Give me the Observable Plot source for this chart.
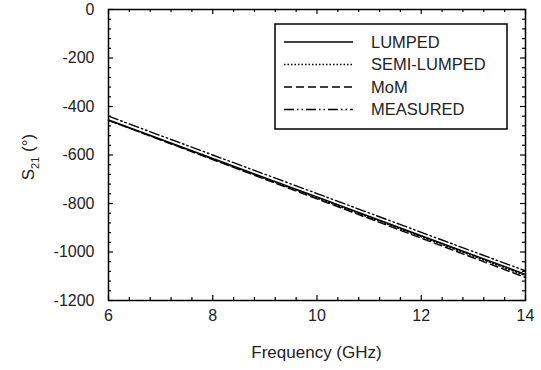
<!DOCTYPE html>
<html><head><meta charset="utf-8">
<script src="https://cdn.jsdelivr.net/npm/d3@7"></script>
<script src="https://cdn.jsdelivr.net/npm/@observablehq/plot@0.6"></script>
<style>body{margin:0;background:#fff;} svg{display:block}</style>
</head><body><div id="chart"></div>
<script>
// ---- data ----
const freq = [6, 8, 10, 12, 14];
const lumped = [-455, -614, -773, -933, -1092];
const semiLumped = [-457, -617, -777, -937, -1097];
const mom = [-457, -619, -781, -943, -1105];
const measured = [-440, -600, -759, -919, -1078];
const seriesNames = ["LUMPED", "SEMI-LUMPED", "MoM", "MEASURED"];
const xTickValues = [6, 8, 10, 12, 14];
const yTickValues = [0, -200, -400, -600, -800, -1000, -1200];
const xLabel = "Frequency (GHz)";

// ---- layout ----
const W = 541, H = 370;
const mL = 108, mR = 16, mT = 9, mB = 70;
const xDom = [6, 14], yDom = [-1200, 0];
const pxX = (xDom[1] - xDom[0]) / (W - mL - mR);
const pxY = (yDom[1] - yDom[0]) / (H - mT - mB);
const dashes = [null, "1.5,2", "8,4", "10,3,1.5,3,1.5,3"];
const seriesVals = [lumped, semiLumped, mom, measured];

const rows = seriesNames.flatMap((s, k) => freq.map((f, i) => ({series: s, f, v: seriesVals[k][i]})));
const xMinor = d3.range(6, 14.0001, 0.4).filter(v => !xTickValues.some(t => Math.abs(t - v) < 1e-6));
const yMinor = d3.range(-1200, 0.0001, 40).filter(v => !yTickValues.some(t => Math.abs(t - v) < 1e-6));

const majL = 5, minL = 3;
const tickMarks = [
  Plot.ruleX(xTickValues, {x: d => d, y1: yDom[0], y2: yDom[0] + majL * pxY, stroke: "#000", strokeWidth: 1.2}),
  Plot.ruleX(xTickValues, {x: d => d, y1: yDom[1], y2: yDom[1] - majL * pxY, stroke: "#000", strokeWidth: 1.2}),
  Plot.ruleX(xMinor, {x: d => d, y1: yDom[0], y2: yDom[0] + minL * pxY, stroke: "#000", strokeWidth: 1.2}),
  Plot.ruleX(xMinor, {x: d => d, y1: yDom[1], y2: yDom[1] - minL * pxY, stroke: "#000", strokeWidth: 1.2}),
  Plot.ruleY(yTickValues, {y: d => d, x1: xDom[0], x2: xDom[0] + majL * pxX, stroke: "#000", strokeWidth: 1.2}),
  Plot.ruleY(yTickValues, {y: d => d, x1: xDom[1], x2: xDom[1] - majL * pxX, stroke: "#000", strokeWidth: 1.2}),
  Plot.ruleY(yMinor, {y: d => d, x1: xDom[0], x2: xDom[0] + minL * pxX, stroke: "#000", strokeWidth: 1.2}),
  Plot.ruleY(yMinor, {y: d => d, x1: xDom[1], x2: xDom[1] - minL * pxX, stroke: "#000", strokeWidth: 1.2})
];

const lineMarks = seriesNames.map((s, k) => Plot.line(rows.filter(r => r.series === s), {
  x: "f", y: "v", stroke: "#000", strokeWidth: 1.4, strokeDasharray: dashes[k]
}));

const chart = Plot.plot({
  width: W, height: H,
  marginLeft: mL, marginRight: mR, marginTop: mT, marginBottom: mB,
  style: {fontFamily: "'Liberation Sans', Arial, sans-serif", fontSize: "16px", color: "#222", background: "#fff"},
  x: {domain: xDom, label: null},
  y: {domain: yDom, label: null},
  marks: [
    Plot.axisX({ticks: xTickValues, tickSize: 0, tickPadding: 9, tickFormat: d => String(d), fontSize: 16}),
    Plot.axisY({ticks: yTickValues, tickSize: 0, tickPadding: 14, tickFormat: d => String(d), fontSize: 16}),
    ...lineMarks,
    ...tickMarks,
    Plot.frame({stroke: "#000", strokeWidth: 1.5})
  ]
});
document.getElementById("chart").appendChild(chart);

// ---- axis titles and legend ----
const svg = d3.select(chart);
svg.append("text").attr("x", mL + (W - mL - mR) / 2).attr("y", 358)
  .attr("text-anchor", "middle").attr("font-size", 17).attr("fill", "#222").text(xLabel);
const yl = svg.append("text").attr("transform", "translate(34,157) rotate(-90)")
  .attr("text-anchor", "middle").attr("font-size", 17).attr("fill", "#222");
yl.append("tspan").text("S");
yl.append("tspan").attr("font-size", 11).attr("dy", 5).text("21");
yl.append("tspan").attr("dy", -5).text(" (°)");

const lg = svg.append("g");
const bx = 275, by = 24, bw = 232, bh = 105;
lg.append("rect").attr("x", bx).attr("y", by).attr("width", bw).attr("height", bh)
  .attr("fill", "#fff").attr("stroke", "#000").attr("stroke-width", 1.5);
seriesNames.forEach((s, k) => {
  const yy = by + 18 + k * 22.5;
  lg.append("line").attr("x1", bx + 9).attr("x2", bx + 78).attr("y1", yy).attr("y2", yy)
    .attr("stroke", "#000").attr("stroke-width", 1.4).attr("stroke-dasharray", dashes[k]);
  lg.append("text").attr("x", bx + 96).attr("y", yy).attr("dy", "0.35em")
    .attr("text-anchor", "start").attr("font-size", 16.5).attr("fill", "#222").text(s);
});
</script></body></html>
